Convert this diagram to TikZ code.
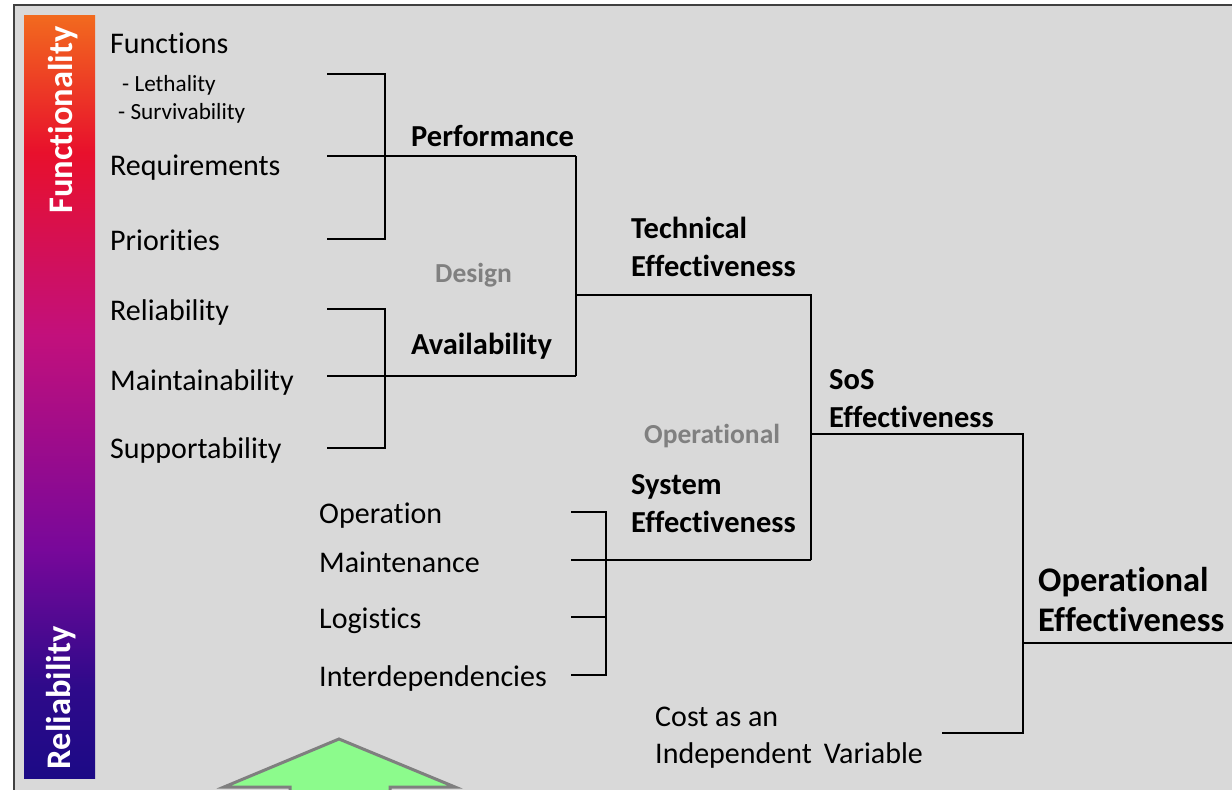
\documentclass[tikz,border=0pt]{standalone}
\usepackage{fontspec}
\setmainfont[Ligatures=NoCommon]{Carlito}
\usetikzlibrary{positioning}

\definecolor{panelgrey}{HTML}{D9D9D9}
\definecolor{framegrey}{HTML}{404040}
\definecolor{phasegrey}{HTML}{808080}
\definecolor{arrowgreen}{HTML}{8CFB8C}
\definecolor{arrowedge}{HTML}{7F7F7F}
\definecolor{barorange}{HTML}{F26A1E}
\definecolor{barred}{HTML}{E8102C}
\definecolor{barmagenta}{HTML}{C2107C}
\definecolor{barpurple}{HTML}{78089A}
\definecolor{barblue}{HTML}{1C0A86}

\pgfdeclareverticalshading{barshade}{100bp}{color(0bp)=(barblue); color(25bp)=(barblue); color(31bp)=(barblue!80!barpurple); color(40bp)=(barpurple); color(54bp)=(barmagenta); color(66bp)=(barred); color(75bp)=(barorange); color(100bp)=(barorange)}

\tikzset{
  item/.style={anchor=base west, inner sep=0pt, align=left, font=\fontsize{30}{37}\selectfont},
  subitem/.style={item, font=\fontsize{23.2}{28}\selectfont},
  measure/.style={item, font=\fontsize{30.5}{38}\selectfont\bfseries},
  phase/.style={item, text=phasegrey, font=\fontsize{27.5}{30}\selectfont\bfseries},
  barlabel/.style={anchor=base, inner sep=0pt, rotate=90, text=white, font=\fontsize{34.5}{36}\selectfont\bfseries},
  link/.style={line width=2.2pt, line join=miter}
}

\begin{document}
\begin{tikzpicture}[x=1pt,y=-1pt]
  \useasboundingbox (0,0) rectangle (1232,790);
  \fill[white] (0,0) rectangle (1232,790);
  \draw[fill=panelgrey, draw=framegrey, line width=2.5pt] (14,5) rectangle (1260,820);

  % colour bar
  \shade[shading=barshade] (24,15) rectangle (95,778);
  \node[barlabel] (funcl) at (72,120) {Functionality};
  \node[barlabel] (relil) at (70,698) {Reliability};

  % design side
  \node[item] (functions) at (110,53) {Functions};
  \node[subitem] (leth) at (122,91) {- Lethality};
  \node[subitem] (surv) at (118,119) {- Survivability};
  \node[item] (reqs) at (110,175) {Requirements};
  \node[item] (prio) at (110,250) {Priorities};
  \node[item] (reli) at (110,320) {Reliability};
  \node[item] (maint) at (110,390) {Maintainability};
  \node[item] (supp) at (110,458) {Supportability};

  \node[measure] (perf) at (411,146) {Performance};
  \node[measure] (avail) at (411,354) {Availability};
  \node[phase] (design) at (435,282) {Design};
  \node[measure] (tech) at (631,276) {Technical\\Effectiveness};

  % operational side
  \node[item] (oper) at (319,523) {Operation};
  \node[item] (mainten) at (319,572) {Maintenance};
  \node[item] (logi) at (319,628) {Logistics};
  \node[item] (inter) at (319,686) {Interdependencies};

  \node[phase] (operph) at (644,443) {Operational};
  \node[measure] (syst) at (631,532) {System\\Effectiveness};
  \node[measure] (sos) at (829,427) {SoS\\Effectiveness};
  \node[item] (caiv) at (655,763) {Cost as an\\Independent\hspace{0.4em}Variable};
  \node[measure, font=\fontsize{34.5}{40}\selectfont\bfseries] (opeff) at (1038,631) {Operational\\Effectiveness};

  % bracket points
  \foreach \n/\y in {p1/74,p2/156,p3/239,a1/309,a2/376,a3/448}
    \coordinate (\n) at (327,\y);
  \foreach \n/\y in {s1/512,s2/560,s3/617,s4/675}
    \coordinate (\n) at (571,\y);
  \coordinate (pj) at (385,156);
  \coordinate (aj) at (385,376);
  \coordinate (sj) at (606,560);
  \coordinate (po) at (576,156);
  \coordinate (ao) at (576,376);
  \coordinate (tj) at (576,295);
  \coordinate (to) at (811,295);
  \coordinate (so) at (811,560);
  \coordinate (oj) at (811,434);
  \coordinate (oo) at (1023,434);
  \coordinate (c1) at (942,733);
  \coordinate (c2) at (1023,733);
  \coordinate (oe) at (1023,643);
  \coordinate (out) at (1240,643);

  \draw[link] (p1) -- (p1-|pj) -- (p3-|pj) -- (p3);
  \draw[link] (p2) -- (pj) -- (po);
  \draw[link] (a1) -- (a1-|aj) -- (a3-|aj) -- (a3);
  \draw[link] (a2) -- (aj) -- (ao);
  \draw[link] (po) -- (ao);
  \draw[link] (tj) -- (to) -- (so);
  \draw[link] (s1) -- (s1-|sj) -- (s4-|sj) -- (s4);
  \draw[link] (s2) -- (sj) -- (so);
  \draw[link] (s3) -- (s3-|sj);
  \draw[link] (oj) -- (oo) -- (c2) -- (c1);
  \draw[link] (oe) -- (out);

  % green arrow
  \coordinate (tip) at (339,739);
  \draw[fill=arrowgreen, draw=arrowedge, line width=3pt, line join=miter]
    (290,800) -- (290,787) -- (224,787) -- (tip) -- (455,787) -- (390,787) -- (390,800);
\end{tikzpicture}
\end{document}
